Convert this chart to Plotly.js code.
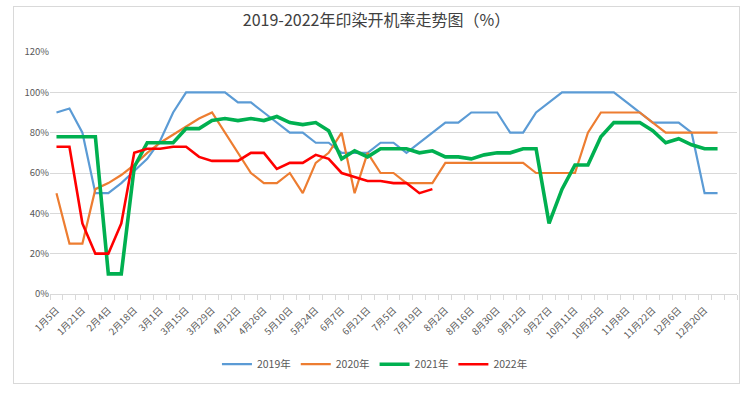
<!DOCTYPE html>
<html>
<head>
<meta charset="utf-8">
<script src="https://cdn.plot.ly/plotly-3.0.1.min.js"></script>
<style>
html,body{margin:0;padding:0;background:#fff;}
#frame{position:absolute;left:13px;top:6px;width:725px;height:376px;border:1px solid #d9d9d9;}
#chart{position:absolute;left:0;top:0;width:753px;height:394px;}
</style>
</head>
<body>
<div id="frame"></div>
<div id="chart"></div>
<script>
const categories = ["1月5日","1月12日","1月21日","1月28日","2月4日","2月11日","2月18日","2月25日","3月1日","3月8日",
  "3月15日","3月22日","3月29日","4月5日","4月12日","4月19日","4月26日","5月3日","5月10日","5月17日",
  "5月24日","5月31日","6月7日","6月14日","6月21日","6月28日","7月5日","7月12日","7月19日","7月26日",
  "8月2日","8月9日","8月16日","8月23日","8月30日","9月6日","9月12日","9月19日","9月27日","10月4日",
  "10月11日","10月18日","10月25日","11月1日","11月8日","11月15日","11月22日","11月29日","12月6日","12月13日",
  "12月20日","12月27日"];

const seriesNames = ["2019年","2020年","2021年","2022年"];

const yTickValues = [0,20,40,60,80,100,120];
const yTickLabels = ["0%","20%","40%","60%","80%","100%","120%"];

const y2019 = [90,92,80,50,50,55,61,67,76,90,
  100,100,100,100,95,95,90,85,80,80,
  75,75,70,70,70,75,75,70,75,80,
  85,85,90,90,90,80,80,90,95,100,
  100,100,100,100,95,90,85,85,85,80,
  50,50];

const y2020 = [50,25,25,52,55,59,64,70,75,79,
  83,87,90,80,70,60,55,55,60,50,
  65,70,80,50,70,60,60,55,55,55,
  65,65,65,65,65,65,65,60,60,60,
  60,80,90,90,90,90,85,80,80,80,
  80,80];

const y2021 = [78,78,78,78,10,10,63,75,75,75,
  82,82,86,87,86,87,86,88,85,84,
  85,81,67,71,68,72,72,72,70,71,
  68,68,67,69,70,70,72,72,35,52,
  64,64,78,85,85,85,81,75,77,74,
  72,72];

const y2022 = [73,73,35,20,20,35,70,72,72,73,
  73,68,66,66,66,70,70,62,65,65,
  69,67,60,58,56,56,55,55,50,52];

const colors = ["#5b9bd5","#ed7d31","#00b050","#ff0000"];
const widths = [2.2,2.2,3.6,2.6];
const allY = [y2019,y2020,y2021,y2022];

const idx = categories.map((c,i)=>i);
const tickIdx = idx.filter(i=>i%2===0);

const traces = allY.map((ys,k)=>({
  type:'scatter', mode:'lines',
  x: ys.map((v,i)=>i), y: ys,
  name: seriesNames[k],
  line:{color:colors[k], width:widths[k]},
  hoverinfo:'x+y'
}));

const fontFam = '"Noto Sans CJK SC","Noto Sans",sans-serif';

const layout = {
  width:753, height:394,
  margin:{l:50, r:16, t:52, b:100},
  paper_bgcolor:'rgba(0,0,0,0)',
  plot_bgcolor:'rgba(0,0,0,0)',
  font:{family:fontFam, color:'#595959', size:10},
  title:{text:'2019-2022年印染开机率走势图（%）', x:0.5, xanchor:'center', y:0.949, yanchor:'middle',
    font:{family:fontFam, size:16, color:'#404040'}},
  xaxis:{
    range:[-0.5, categories.length+0.5],
    tickmode:'array', tickvals:tickIdx, ticktext:tickIdx.map(i=>categories[i]),
    tickangle:-45, ticks:'', showgrid:false, zeroline:false,
    showline:true, linecolor:'#d9d9d9', linewidth:1,
    ticklabelstandoff:6,
    tickfont:{size:9.5, color:'#595959'},
    minor:{ticks:'outside', tick0:-0.5, dtick:1, ticklen:5, tickcolor:'#d9d9d9', tickwidth:1, showgrid:false},
    fixedrange:true
  },
  yaxis:{
    range:[0,120], tickmode:'array', tickvals:yTickValues, ticktext:yTickLabels,
    showgrid:true, gridcolor:'#d9d9d9', gridwidth:1,
    zeroline:false, showline:false, ticks:'',
    tickfont:{size:9.5, color:'#595959'}, fixedrange:true
  },
  legend:{orientation:'h', x:0.473, xanchor:'center', y:-0.29, yanchor:'middle',
    font:{size:10.5, color:'#595959'}, tracegroupgap:0},
  showlegend:true
};

Plotly.newPlot('chart', traces, layout, {displayModeBar:false, staticPlot:true});
</script>
</body>
</html>
